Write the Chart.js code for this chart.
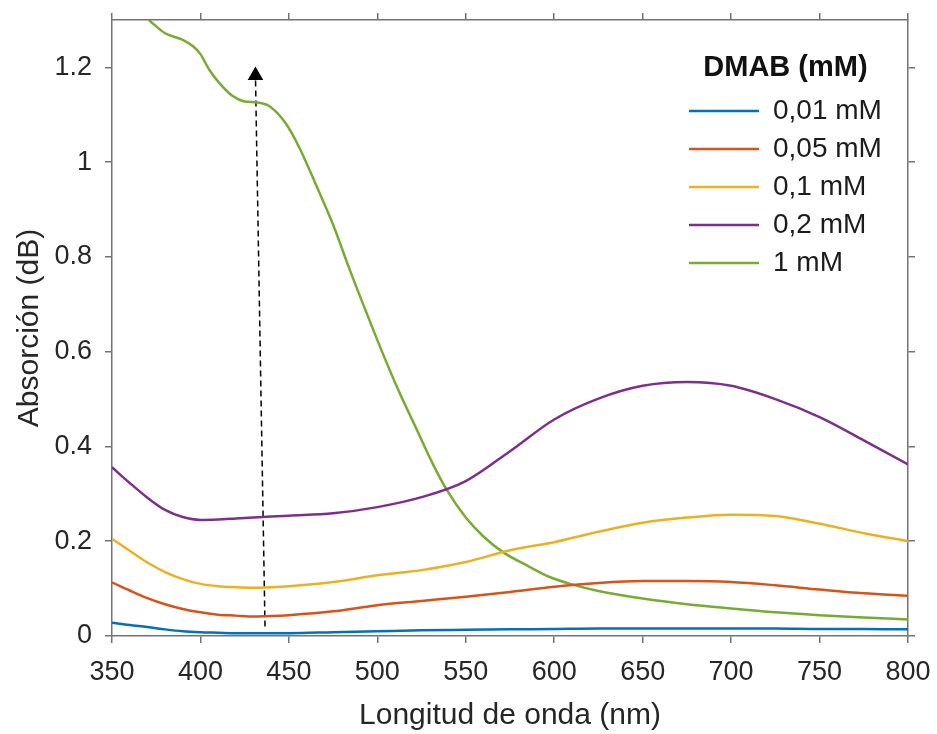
<!DOCTYPE html>
<html>
<head>
<meta charset="utf-8">
<script src="https://cdn.jsdelivr.net/npm/chart.js@4.4.0/dist/chart.umd.min.js"></script>
<style>
html,body{margin:0;padding:0;background:#ffffff;}
#wrap{width:937px;height:734px;}
</style>
</head>
<body>
<div id="wrap"><canvas id="c" width="937" height="734"></canvas></div>
<script>
// ---- data ----
const wavelengths = [350,360,370,380,390,400,410,420,430,440,450,475,500,525,550,575,600,625,650,675,700,725,750,775,800];
const dmab001 = [0.028,0.023,0.019,0.014,0.010,0.008,0.007,0.006,0.006,0.006,0.006,0.008,0.010,0.012,0.013,0.014,0.015,0.016,0.016,0.016,0.016,0.016,0.015,0.015,0.014];
const dmab005 = [0.113,0.096,0.080,0.067,0.057,0.050,0.045,0.043,0.041,0.042,0.044,0.052,0.065,0.074,0.083,0.093,0.104,0.112,0.116,0.116,0.114,0.107,0.098,0.090,0.085];
const dmab01  = [0.205,0.180,0.155,0.135,0.120,0.110,0.105,0.103,0.102,0.103,0.105,0.114,0.128,0.139,0.156,0.181,0.198,0.220,0.239,0.250,0.256,0.253,0.237,0.217,0.200];
const dmab02  = [0.356,0.323,0.292,0.266,0.251,0.245,0.246,0.248,0.250,0.252,0.254,0.259,0.272,0.293,0.327,0.390,0.457,0.501,0.528,0.536,0.528,0.500,0.462,0.413,0.362];
const greenWavelengths = [370.8,380,390,396,400,405,410,418,425,432,439,448,456,465,475,484,494,503,512,522,531,539,550,560,571,585,597,610,625,650,675,700,725,750,775,800];
const dmab1 = [1.30,1.272,1.258,1.244,1.228,1.195,1.17,1.14,1.128,1.126,1.118,1.083,1.03,0.955,0.868,0.777,0.681,0.597,0.518,0.438,0.366,0.310,0.250,0.210,0.177,0.148,0.125,0.109,0.095,0.079,0.067,0.058,0.05,0.044,0.039,0.035];
const seriesLabels = ['0,01 mM','0,05 mM','0,1 mM','0,2 mM','1 mM'];
const legendTitle = 'DMAB (mM)';
const xTicks = [350,400,450,500,550,600,650,700,750,800];
const yTicks = [0,0.2,0.4,0.6,0.8,1.0,1.2];
const arrowX = [436.5, 431.1];
const arrowY = [0.02, 1.183];

// ---- styling ----
const colors = ['#0072BD','#D95319','#EDB120','#7E2F8E','#77AC30'];
const FONT = "'Liberation Sans', Arial, Helvetica, sans-serif";
const TEXT = '#262626';
const AXIS = '#737373';

const pts = (xs, ys) => xs.map((x, i) => ({x: x, y: ys[i]}));
const seriesValues = [dmab001, dmab005, dmab01, dmab02];

const datasets = seriesValues.map((vals, i) => ({
  label: seriesLabels[i],
  data: pts(wavelengths, vals),
  borderColor: colors[i],
  backgroundColor: colors[i],
  borderWidth: 2.5,
  pointRadius: 0,
  cubicInterpolationMode: 'monotone',
  pointStyle: 'line'
}));
datasets.push({
  label: seriesLabels[4],
  data: pts(greenWavelengths, dmab1),
  borderColor: colors[4],
  backgroundColor: colors[4],
  borderWidth: 2.5,
  pointRadius: 0,
  cubicInterpolationMode: 'monotone',
  pointStyle: 'line'
});
datasets.push({
  label: 'arrow',
  data: pts(arrowX, arrowY),
  borderColor: '#000000',
  backgroundColor: '#000000',
  borderWidth: 1.5,
  borderDash: [6,4],
  pointRadius: [0, 9],
  pointStyle: 'triangle',
  pointBorderWidth: 0,
  pointBackgroundColor: '#000000',
  tension: 0
});

const setTicks = (arr) => (s) => { s.ticks = arr.map(v => ({value: v})); };
const noPad = (s) => { s.paddingTop = 0; s.paddingBottom = 0; s.paddingLeft = 0; s.paddingRight = 0; };

const legendPlacer = {
  id: 'legendPlacer',
  afterLayout(chart) {
    const lg = chart.legend;
    if (!lg) return;
    const w = lg.width, h = lg.height;
    lg.left = 679; lg.top = 53;
    lg.right = lg.left + w; lg.bottom = lg.top + h;
  }
};

new Chart(document.getElementById('c'), {
  type: 'line',
  data: { datasets: datasets },
  plugins: [legendPlacer],
  options: {
    responsive: false,
    animation: false,
    devicePixelRatio: 1,
    layout: { padding: 0 },
    plugins: {
      tooltip: { enabled: false },
      legend: {
        position: 'chartArea',
        align: 'start',
        labels: {
          usePointStyle: true,
          pointStyle: 'line',
          pointStyleWidth: 70,
          padding: 10,
          color: '#1c1c1c',
          font: { family: FONT, size: 28 },
          filter: (item) => item.datasetIndex < seriesLabels.length
        },
        title: {
          display: true,
          text: legendTitle,
          color: '#111111',
          font: { family: FONT, size: 29, weight: 'bold', lineHeight: 1.1 },
          padding: { top: 0, bottom: 2 }
        }
      }
    },
    scales: {
      x: {
        type: 'linear', position: 'bottom', min: 350, max: 800,
        afterBuildTicks: setTicks(xTicks),
        afterFit: (s) => { s.height = 98; noPad(s); },
        ticks: { color: TEXT, font: { family: FONT, size: 27 }, padding: 13, maxRotation: 0, autoSkip: false },
        grid: { display: true, drawOnChartArea: false, drawTicks: true, tickLength: 7, color: AXIS, lineWidth: 1.5 },
        border: { display: true, color: AXIS, width: 1.5 },
        title: { display: true, text: 'Longitud de onda (nm)', color: TEXT, font: { family: FONT, size: 30 }, padding: { top: 0, bottom: 0 } }
      },
      y: {
        type: 'linear', position: 'left', min: 0, max: 1.3,
        afterBuildTicks: setTicks(yTicks),
        afterFit: (s) => { s.width = 112; noPad(s); },
        ticks: { color: TEXT, font: { family: FONT, size: 27 }, padding: 13, autoSkip: false,
                 callback: (v) => String(Math.round(v * 10) / 10) },
        grid: { display: true, drawOnChartArea: false, drawTicks: true, tickLength: 7, color: AXIS, lineWidth: 1.5 },
        border: { display: true, color: AXIS, width: 1.5 },
        title: { display: true, text: 'Absorción (dB)', color: TEXT, font: { family: FONT, size: 30 }, padding: { top: 12, bottom: 0 } }
      },
      x2: {
        type: 'linear', position: 'top', min: 350, max: 800,
        afterBuildTicks: setTicks(xTicks),
        afterFit: (s) => { s.height = 20; noPad(s); },
        ticks: { display: false },
        grid: { display: true, drawOnChartArea: false, drawTicks: true, tickLength: 7, color: AXIS, lineWidth: 1.5 },
        border: { display: true, color: AXIS, width: 1.5 }
      },
      y2: {
        type: 'linear', position: 'right', min: 0, max: 1.3,
        afterBuildTicks: setTicks(yTicks),
        afterFit: (s) => { s.width = 29; noPad(s); },
        ticks: { display: false },
        grid: { display: true, drawOnChartArea: false, drawTicks: true, tickLength: 7, color: AXIS, lineWidth: 1.5 },
        border: { display: true, color: AXIS, width: 1.5 }
      }
    }
  }
});
</script>
</body>
</html>
